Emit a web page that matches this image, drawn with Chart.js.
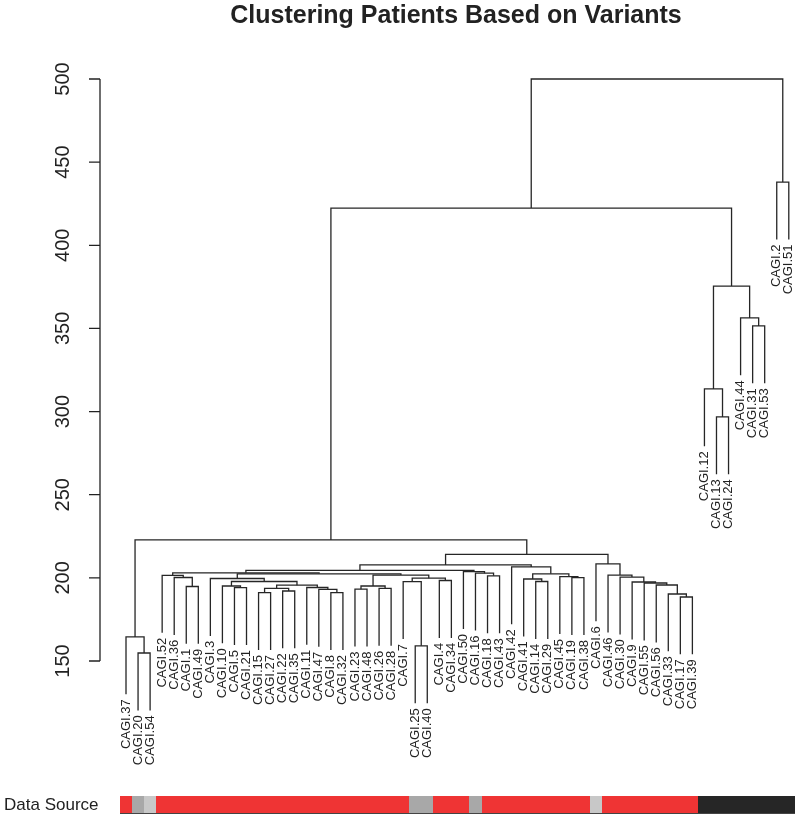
<!DOCTYPE html>
<html>
<head>
<meta charset="utf-8">
<script src="https://cdn.jsdelivr.net/npm/chart.js@4.4.1/dist/chart.umd.min.js"></script>
<style>
  html, body { margin: 0; padding: 0; background: #fff; }
</style>
</head>
<body>
<canvas id="myChart" width="800" height="817"></canvas>
<script>
// leaves in dendrogram order (left to right)
const leafLabels = ["CAGI.37","CAGI.20","CAGI.54","CAGI.52","CAGI.36","CAGI.1","CAGI.49","CAGI.3","CAGI.10","CAGI.5",
  "CAGI.21","CAGI.15","CAGI.27","CAGI.22","CAGI.35","CAGI.11","CAGI.47","CAGI.8","CAGI.32","CAGI.23",
  "CAGI.48","CAGI.26","CAGI.28","CAGI.7","CAGI.25","CAGI.40","CAGI.4","CAGI.34","CAGI.50","CAGI.16",
  "CAGI.18","CAGI.43","CAGI.42","CAGI.41","CAGI.14","CAGI.29","CAGI.45","CAGI.19","CAGI.38","CAGI.6",
  "CAGI.46","CAGI.30","CAGI.9","CAGI.55","CAGI.56","CAGI.33","CAGI.17","CAGI.39","CAGI.12","CAGI.13",
  "CAGI.24","CAGI.44","CAGI.31","CAGI.53","CAGI.2","CAGI.51"];

// data source of each leaf, same order
const dataSource = ["A","B","C","A","A","A","A","A","A","A",
  "A","A","A","A","A","A","A","A","A","A",
  "A","A","A","A","B","B","A","A","A","B",
  "A","A","A","A","A","A","A","A","A","C",
  "A","A","A","A","A","A","A","A","D","D",
  "D","D","D","D","D","D"];
const sourceColors = { A: "#ef3434", B: "#a8a8a8", C: "#c8c8c8", D: "#262626" };

// merges like R hclust: negative = leaf position, positive = earlier merge
const mergeLeft   = [-2, -1, -25, -6, -5, -4, -10, -9, -12, -14, 9, -18, -17, -16, 11, 8, -8, -20, -22, 18,
  -24, -27, 21, 20, 17, 6, -31, -30, -29, 26, -35, -34, -38, -37, 32, -33, 30, -47, -46, -45,
  -44, -43, -42, -41, -40, 37, 2, -50, -49, -53, -52, 49, 47, -55, 53];
const mergeRight  = [-3, 1, -26, -7, 4, 5, -11, 7, -13, -15, 10, -19, 12, 13, 14, 15, 16, -21, -23, 19,
  3, -28, 22, 23, 24, 25, -32, 27, 28, 29, -36, 31, -39, 33, 34, 35, 36, -48, 38, 39,
  40, 41, 42, 43, 44, 45, 46, -51, 48, -54, 50, 51, 52, -56, 54];
const mergeHeight = [154.8, 164.5, 159.1, 194.8, 200.2, 201.5, 194.1, 195.1, 191.1, 192.1, 193.7, 191.1, 193.1, 194.2, 195.6, 197.8, 199.6, 193.2, 193.7, 195.1,
  197.7, 198.4, 199.8, 201.7, 202.4, 203.0, 201.2, 202.8, 203.8, 204.5, 197.8, 199.3, 200.1, 200.8, 202.4, 206.6, 207.8, 188.5, 190.3, 195.7,
  196.9, 197.5, 200.5, 201.7, 208.4, 214.1, 222.8, 296.8, 313.6, 351.5, 356.3, 375.5, 422.4, 438.0, 500.0];

const yTicks = [150, 200, 250, 300, 350, 400, 450, 500];
const hang = 34.5;

// build one line per merge from the merge table
const mergeX = [];
const leafBottom = [];
const datasets = [];
for (let i = 0; i < mergeHeight.length; i++) {
  const h = mergeHeight[i];
  const pts = [];
  [mergeLeft[i], mergeRight[i]].forEach(function (c, k) {
    let x, low;
    if (c < 0) { x = -c; low = h - hang; leafBottom[-c - 1] = low; }
    else { x = mergeX[c - 1]; low = mergeHeight[c - 1]; }
    if (k === 0) { pts.push({x: x, y: low}, {x: x, y: h}); }
    else { pts.push({x: x, y: h}, {x: x, y: low}); }
  });
  mergeX[i] = (pts[0].x + pts[3].x) / 2;
  datasets.push({
    data: pts,
    showLine: true,
    borderColor: '#262626',
    borderWidth: 1.3,
    pointRadius: 0,
    clip: false
  });
}

const extras = {
  id: 'extras',
  afterDraw(chart) {
    const ctx = chart.ctx;
    const xs = chart.scales.x, ys = chart.scales.y;
    ctx.save();
    ctx.fillStyle = '#222';
    ctx.strokeStyle = '#222';

    // title
    ctx.font = 'bold 25px "Liberation Sans", Arial, sans-serif';
    ctx.textAlign = 'center';
    ctx.textBaseline = 'middle';
    ctx.fillText('Clustering Patients Based on Variants', 456, 16);

    // y axis
    const ax = chart.chartArea.left;
    ctx.lineWidth = 1.3;
    ctx.beginPath();
    ctx.moveTo(ax, ys.getPixelForValue(yTicks[0]));
    ctx.lineTo(ax, ys.getPixelForValue(yTicks[yTicks.length - 1]));
    yTicks.forEach(function (t) {
      const py = ys.getPixelForValue(t);
      ctx.moveTo(ax, py);
      ctx.lineTo(ax - 11, py);
    });
    ctx.stroke();
    ctx.font = '20px "Liberation Sans", Arial, sans-serif';
    yTicks.forEach(function (t) {
      const py = ys.getPixelForValue(t);
      ctx.save();
      ctx.translate(63, py);
      ctx.rotate(-Math.PI / 2);
      ctx.textAlign = 'center';
      ctx.textBaseline = 'middle';
      ctx.fillText(String(t), 0, 0);
      ctx.restore();
    });

    // leaf labels
    ctx.font = '13px "Liberation Sans", Arial, sans-serif';
    leafLabels.forEach(function (lab, i) {
      const px = xs.getPixelForValue(i + 1);
      const py = ys.getPixelForValue(leafBottom[i]) + 5;
      ctx.save();
      ctx.translate(px, py);
      ctx.rotate(-Math.PI / 2);
      ctx.textAlign = 'right';
      ctx.textBaseline = 'middle';
      ctx.fillText(lab, 0, 0);
      ctx.restore();
    });

    // data source strip
    const top = 796, bottom = 814;
    dataSource.forEach(function (s, i) {
      const x0 = Math.round(xs.getPixelForValue(i + 0.5));
      const x1 = Math.round(xs.getPixelForValue(i + 1.5));
      ctx.fillStyle = sourceColors[s];
      ctx.fillRect(x0, top, x1 - x0, bottom - top);
    });
    ctx.fillStyle = '#444';
    const sx0 = Math.round(xs.getPixelForValue(0.5));
    const sx1 = Math.round(xs.getPixelForValue(dataSource.length + 0.5));
    ctx.fillRect(sx0, bottom - 1, sx1 - sx0, 1);
    ctx.fillStyle = '#222';
    ctx.font = '17px "Liberation Sans", Arial, sans-serif';
    ctx.textAlign = 'left';
    ctx.textBaseline = 'middle';
    ctx.fillText('Data Source', 4, 805);
    ctx.restore();
  }
};

const ctx = document.getElementById('myChart').getContext('2d');
const myChart = new Chart(ctx, {
  type: 'scatter',
  data: { datasets: datasets },
  options: {
    responsive: false,
    animation: false,
    devicePixelRatio: 1,
    layout: { padding: { left: 100, right: 0, top: 79, bottom: 156 } },
    elements: { line: { tension: 0 } },
    scales: {
      x: { type: 'linear', display: false, min: -1.158, max: 56.93 },
      y: { type: 'linear', display: false, min: 150, max: 500 }
    },
    plugins: {
      legend: { display: false },
      tooltip: { enabled: false }
    }
  },
  plugins: [extras]
});
</script>
</body>
</html>
